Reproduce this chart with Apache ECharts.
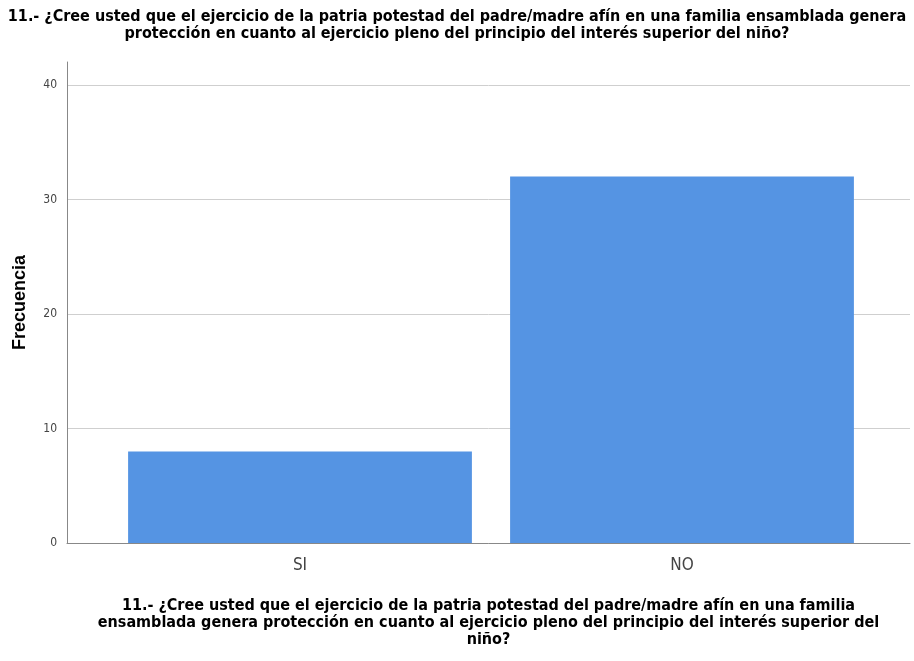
<!DOCTYPE html>
<html>
<head>
<meta charset="utf-8">
<script src="https://cdn.jsdelivr.net/npm/echarts@6/dist/echarts.min.js"></script>
<style>
  html, body { margin: 0; padding: 0; background: #fff; }
  #chart { width: 914px; height: 661px; }
</style>
</head>
<body>
<div id="chart"></div>
<script>
// datos
var categorias = ['SI', 'NO'];
var frecuencias = [8, 32];
var ticksY = [0, 10, 20, 30, 40];

var narrow = "'Liberation Sans Narrow', 'DejaVu Sans Condensed', Arial, sans-serif";
var pregunta = '11.- ¿Cree usted que el ejercicio de la patria potestad del padre/madre afín en una familia ensamblada genera\nprotección en cuanto al ejercicio pleno del principio del interés superior del niño?';
var preguntaEje = '11.- ¿Cree usted que el ejercicio de la patria potestad del padre/madre afín en una familia\nensamblada genera protección en cuanto al ejercicio pleno del principio del interés superior del\nniño?';

var chart = echarts.init(document.getElementById('chart'));
chart.setOption({
  animation: false,
  backgroundColor: '#fff',
  title: {
    text: pregunta,
    left: 'center',
    top: 3,
    textStyle: { fontFamily: narrow, fontSize: 16, fontWeight: 'bold', color: '#000', lineHeight: 17 }
  },
  grid: [
    // barras
    { left: 109, right: 41, top: 85, bottom: 118 },
    // lineas de division y etiquetas
    { left: 67, right: 4, top: 85, bottom: 118 },
    // marco de ejes
    { left: 67, right: 4, top: 62, bottom: 118 }
  ],
  xAxis: [
    {
      type: 'category', gridIndex: 0, data: categorias,
      axisLine: { show: false }, axisTick: { show: false },
      axisLabel: { fontFamily: narrow, fontSize: 17, color: '#444', margin: 14 }
    },
    { type: 'value', gridIndex: 1, min: 0, max: 1, show: false },
    {
      type: 'value', gridIndex: 2, min: 0, max: 1,
      axisLine: { show: true, lineStyle: { color: '#888', width: 1 } },
      axisTick: { show: false }, axisLabel: { show: false }, splitLine: { show: false },
      name: preguntaEje, nameLocation: 'middle', nameGap: 54,
      nameTextStyle: { fontFamily: narrow, fontSize: 16, fontWeight: 'bold', color: '#000', lineHeight: 17 }
    }
  ],
  yAxis: [
    { type: 'value', gridIndex: 0, min: 0, max: 40, show: false },
    {
      type: 'value', gridIndex: 1, min: ticksY[0], max: ticksY[ticksY.length - 1], interval: 10,
      axisLine: { show: false }, axisTick: { show: false },
      axisLabel: { fontFamily: narrow, fontSize: 12, color: '#444', margin: 10 },
      splitLine: { lineStyle: { color: '#cfcfcf', width: 1 } }
    },
    {
      type: 'value', gridIndex: 2, min: 0, max: 42,
      axisLine: { show: true, lineStyle: { color: '#888', width: 1 } },
      axisTick: { show: false }, axisLabel: { show: false }, splitLine: { show: false },
      name: 'Frecuencia', nameLocation: 'middle', nameGap: 38, nameRotate: 90,
      nameTextStyle: { fontFamily: "'Liberation Sans', Arial, sans-serif", fontSize: 18, fontWeight: 'bold', color: '#000' }
    }
  ],
  series: [
    {
      type: 'bar', xAxisIndex: 0, yAxisIndex: 0,
      data: frecuencias,
      barCategoryGap: '10%',
      itemStyle: { color: '#5594E3' }
    }
  ]
});
</script>
</body>
</html>
